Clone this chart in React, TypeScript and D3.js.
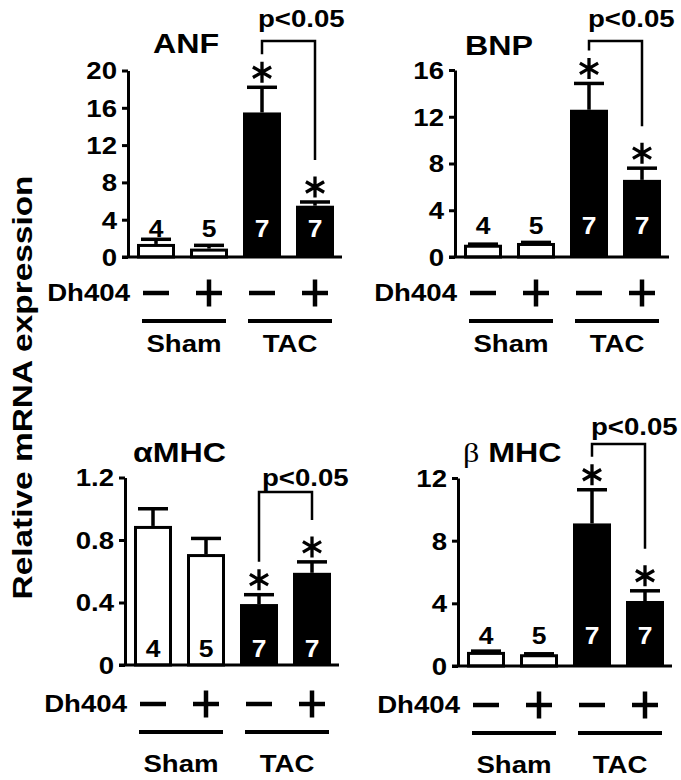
import React, { useEffect, useRef } from "react";
import * as d3 from "d3";

// bar order: Sham -, Sham +, TAC -, TAC +
const treatments = ["-", "+", "-", "+"];
const groups = ["Sham", "TAC"];
const nCounts = [4, 5, 7, 7];
const barFills = ["white", "white", "black", "black"];
const starred = [false, false, true, true];
const pLabel = "p<0.05";
const yTitle = "Relative mRNA expression";

const anfMean = [1.4, 0.9, 15.5, 5.5];
const anfSem = [0.5, 0.35, 2.7, 0.4];
const anfTicks = [0, 4, 8, 12, 16, 20];

const bnpMean = [1.05, 1.2, 12.6, 6.6];
const bnpSem = [0.05, 0.05, 2.25, 1.0];
const bnpTicks = [0, 4, 8, 12, 16];

const amhcMean = [0.89, 0.71, 0.39, 0.59];
const amhcSem = [0.11, 0.1, 0.06, 0.07];
const amhcTicks = [0, 0.4, 0.8, 1.2];

const bmhcMean = [0.9, 0.75, 9.1, 4.15];
const bmhcSem = [0.05, 0.03, 2.15, 0.65];
const bmhcTicks = [0, 4, 8, 12];

const FONT = "'Liberation Sans', Arial, sans-serif";
const SX = 1.15; // glyphs in the figure are a bit wider than Arial

const rows = [
    { dh: 36, line: 64, grp: 95 },
    { dh: 39, line: 67, grp: 107 },
];

const panels = [
    { title: "ANF", mean: anfMean, sem: anfSem, ticks: anfTicks, max: 20, fmt: (d) => String(d),
      axisX: 128, y0: 257, yTop: 70.5, titleX: 153, titleY: 53, pX: 258, pY: 27, bracketY: 41, nY: 237, row: 0 },
    { title: "BNP", mean: bnpMean, sem: bnpSem, ticks: bnpTicks, max: 16, fmt: (d) => String(d),
      axisX: 455, y0: 257, yTop: 70, titleX: 465, titleY: 55, pX: 588, pY: 27, bracketY: 41, nY: 234, row: 0 },
    { title: "αMHC", mean: amhcMean, sem: amhcSem, ticks: amhcTicks, max: 1.2, fmt: (d) => (d === 0 ? "0" : d.toFixed(1)),
      axisX: 125, y0: 665, yTop: 477.5, titleX: 133, titleY: 462, pX: 262, pY: 486, bracketY: 492, nY: 657, row: 1 },
    { title: "β MHC", mean: bmhcMean, sem: bmhcSem, ticks: bmhcTicks, max: 12, fmt: (d) => String(d),
      axisX: 458, y0: 666, yTop: 478, titleX: 463, titleY: 462, pX: 591, pY: 435, bracketY: 444, nY: 644, row: 1 },
];

function addText(sel, x, y, str, size, anchor = "middle", fill = "black") {
    return sel.append("text")
        .attr("transform", `translate(${x},${y}) scale(${SX},1)`)
        .attr("text-anchor", anchor)
        .attr("font-family", FONT)
        .attr("font-weight", "bold")
        .attr("font-size", size)
        .attr("fill", fill)
        .text(str);
}

function asterisk(sel, cx, cy) {
    const r = 10.5;
    const path = d3.path();
    [90, 30, -30].forEach(a => {
        const t = (a * Math.PI) / 180;
        path.moveTo(cx - r * Math.cos(t), cy - r * Math.sin(t));
        path.lineTo(cx + r * Math.cos(t), cy + r * Math.sin(t));
    });
    sel.append("path").attr("d", path.toString()).attr("stroke", "black").attr("stroke-width", 3.3).attr("fill", "none");
}

const App = () => {
    const svgRef = useRef(null);

    useEffect(() => {
        const svg = d3.select(svgRef.current);
        svg.selectAll("*").remove();

        svg.append("rect").attr("width", 681).attr("height", 780).attr("fill", "white");

        // shared y title
        svg.append("text")
            .attr("transform", "translate(22,387.5) rotate(-90)")
            .attr("text-anchor", "middle")
            .attr("dominant-baseline", "central")
            .attr("font-family", FONT)
            .attr("font-weight", "bold")
            .attr("font-size", 28)
            .attr("textLength", 424)
            .attr("lengthAdjust", "spacingAndGlyphs")
            .text(yTitle);

        panels.forEach(p => {
            const g = svg.append("g");
            const row = rows[p.row];
            const y = d3.scaleLinear().domain([0, p.max]).range([p.y0, p.yTop]);
            const x = d3.scalePoint().domain(d3.range(4)).range([p.axisX + 28, p.axisX + 187]);

            // title
            if (p.title.startsWith("β")) {
                const t = g.append("text")
                    .attr("transform", `translate(${p.titleX},${p.titleY}) scale(${SX},1)`)
                    .attr("font-size", 28);
                t.append("tspan").attr("font-family", "'Liberation Serif', serif").text("β");
                t.append("tspan").attr("font-family", FONT).attr("font-weight", "bold").text(" MHC");
            } else {
                addText(g, p.titleX, p.titleY, p.title, 28, "start");
            }

            // y axis
            const axis = g.append("g")
                .attr("transform", `translate(${p.axisX},0)`)
                .call(d3.axisLeft(y).tickValues(p.ticks).tickSize(6).tickSizeOuter(0).tickFormat(p.fmt));
            axis.select(".domain").attr("stroke-width", 3);
            axis.selectAll(".tick line").attr("stroke-width", 3);
            axis.selectAll(".tick text")
                .attr("x", null)
                .attr("dy", null)
                .attr("transform", `translate(-11,0) scale(${SX},1)`)
                .attr("dominant-baseline", "central")
                .attr("font-family", FONT)
                .attr("font-weight", "bold")
                .attr("font-size", 24);

            // error bars (upper only)
            p.mean.forEach((m, i) => {
                const cx = x(i);
                g.append("line").attr("x1", cx).attr("x2", cx).attr("y1", y(m)).attr("y2", y(m + p.sem[i]))
                    .attr("stroke", "black").attr("stroke-width", 3.5);
                g.append("line").attr("x1", cx - 15).attr("x2", cx + 15).attr("y1", y(m + p.sem[i])).attr("y2", y(m + p.sem[i]))
                    .attr("stroke", "black").attr("stroke-width", 3.5);
            });

            // bars
            p.mean.forEach((m, i) => {
                const cx = x(i);
                if (barFills[i] === "white") {
                    g.append("rect").attr("x", cx - 17.5).attr("width", 35)
                        .attr("y", y(m) + 1.5).attr("height", Math.max(0, p.y0 - y(m) - 1.5))
                        .attr("fill", "white").attr("stroke", "black").attr("stroke-width", 3);
                } else {
                    g.append("rect").attr("x", cx - 19).attr("width", 38)
                        .attr("y", y(m)).attr("height", p.y0 - y(m))
                        .attr("fill", "black");
                }
            });

            // baseline
            g.append("line").attr("x1", p.axisX - 6).attr("x2", p.axisX + 214).attr("y1", p.y0).attr("y2", p.y0)
                .attr("stroke", "black").attr("stroke-width", 3);

            // n labels
            nCounts.forEach((n, i) => {
                addText(g, x(i), p.nY, String(n), 23, "middle", barFills[i] === "black" ? "white" : "black");
            });

            // asterisks + bracket
            const starY = p.mean.map((m, i) => y(m + p.sem[i]) - 15);
            p.mean.forEach((m, i) => {
                if (starred[i]) asterisk(g, x(i), starY[i]);
            });
            g.append("path")
                .attr("d", `M${x(2)},${starY[2] - 18}V${p.bracketY}H${x(3)}V${starY[3] - 27}`)
                .attr("fill", "none").attr("stroke", "black").attr("stroke-width", 2.5);
            addText(g, p.pX, p.pY, pLabel, 24, "start");

            // Dh404 row
            const dy = p.y0 + row.dh;
            addText(g, p.axisX + 2, dy, "Dh404", 24, "end").attr("dominant-baseline", "central");
            treatments.forEach((s, i) => {
                const cx = x(i);
                g.append("line").attr("x1", cx - 13).attr("x2", cx + 13).attr("y1", dy).attr("y2", dy)
                    .attr("stroke", "black").attr("stroke-width", 4.5);
                if (s === "+") {
                    g.append("line").attr("x1", cx).attr("x2", cx).attr("y1", dy - 13.5).attr("y2", dy + 13.5)
                        .attr("stroke", "black").attr("stroke-width", 4.5);
                }
            });

            // group lines and labels
            groups.forEach((name, gi) => {
                const a = x(gi * 2) - 14;
                const b = x(gi * 2 + 1) + 17;
                g.append("line").attr("x1", a).attr("x2", b).attr("y1", p.y0 + row.line).attr("y2", p.y0 + row.line)
                    .attr("stroke", "black").attr("stroke-width", 4);
                addText(g, (a + b) / 2, p.y0 + row.grp, name, 24, "middle");
            });
        });
    }, []);

    return (
        <svg ref={svgRef} width={681} height={780}
            style={{ position: "absolute", left: 0, top: 0, display: "block" }} />
    );
};

export default App;
